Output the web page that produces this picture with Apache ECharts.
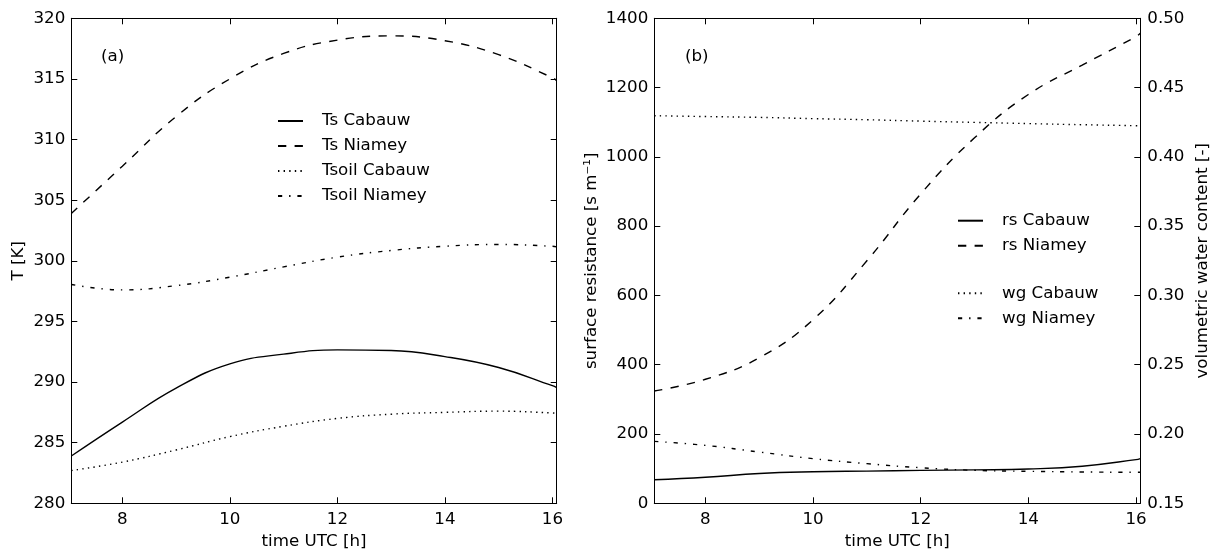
<!DOCTYPE html>
<html>
<head>
<meta charset="utf-8">
<script src="https://cdn.jsdelivr.net/npm/echarts@6/dist/echarts.min.js"></script>
<style>
html,body{margin:0;padding:0;background:#fff;}
#chart{width:1221px;height:556px;}
</style>
</head>
<body>
<div id="chart"></div>
<script>
// ---- data ----
const hours = [7.05, 8, 9, 10, 11, 12, 13, 14, 15, 16, 16.08];
const tsCabauw   = [283.9, 286.7, 289.5, 291.5, 292.3, 292.65, 292.6, 292.1, 291.2, 289.7, 289.55];
const tsNiamey   = [303.9, 307.8, 311.9, 315.0, 317.1, 318.2, 318.55, 318.15, 317.0, 315.1, 314.85];
const tsoilCabauw = [282.7, 283.4, 284.4, 285.5, 286.35, 287.0, 287.35, 287.5, 287.6, 287.45, 287.4];
const tsoilNiamey = [298.05, 297.6, 297.95, 298.65, 299.5, 300.3, 300.85, 301.2, 301.35, 301.2, 301.15];
const rsCabauw = [68, 75, 86, 91, 93, 95, 96.5, 99, 107, 126, 129];
const rsNiamey = [324, 358, 420, 530, 700, 893, 1055, 1180, 1265, 1347, 1357];
const wgCabauw = [0.4297, 0.4291, 0.4285, 0.4276, 0.4268, 0.4258, 0.4249, 0.4240, 0.4232, 0.4225, 0.4224];
const wgNiamey = [0.1947, 0.1918, 0.187, 0.1822, 0.1786, 0.1757, 0.1738, 0.1731, 0.1726, 0.1724, 0.1724];
const xTicks = [8, 10, 12, 14, 16];
const legendA = ['Ts Cabauw', 'Ts Niamey', 'Tsoil Cabauw', 'Tsoil Niamey'];
const legendB1 = ['rs Cabauw', 'rs Niamey'];
const legendB2 = ['wg Cabauw', 'wg Niamey'];

const pairs = (ys) => hours.map((h, i) => [h, ys[i]]);
const FONT = 'DejaVu Sans';
const FS = 16.7;
const X_MIN = 7.05, X_MAX = 16.08;

const DASH = [8.3, 8.3], DOT = [1.4, 4.2], DASHDOT = [4.2, 6.9, 1.4, 6.9];

function xAx(grid, pos, showLabel, name) {
  return {
    type: 'value', gridIndex: grid, position: pos, min: X_MIN, max: X_MAX,
    splitLine: {show: false},
    axisLine: {show: true, onZero: false, lineStyle: {color: '#000', width: 1}},
    axisTick: {show: true, inside: true, length: 6, customValues: xTicks, lineStyle: {color: '#000'}},
    axisLabel: {show: showLabel, customValues: xTicks, color: '#000', fontFamily: FONT, fontSize: FS, margin: 8},
    name: name || '', nameLocation: 'middle', nameGap: 25,
    nameTextStyle: {color: '#000', fontFamily: FONT, fontSize: FS}
  };
}
function yAx(grid, pos, min, max, interval, showLabel, name, fmt) {
  return {
    type: 'value', gridIndex: grid, position: pos, min: min, max: max, interval: interval,
    splitLine: {show: false},
    axisLine: {show: true, onZero: false, lineStyle: {color: '#000', width: 1}},
    axisTick: {show: true, inside: true, length: 6, lineStyle: {color: '#000'}},
    axisLabel: {show: showLabel, color: '#000', fontFamily: FONT, fontSize: FS, margin: 6,
      formatter: fmt || (v => String(v))},
    name: name || '', nameLocation: 'middle', nameGap: 46, nameRotate: 90,
    nameTextStyle: {color: '#000', fontFamily: FONT, fontSize: FS}
  };
}
function ln(name, xi, yi, ys, dash) {
  return {
    name: name, type: 'line', xAxisIndex: xi, yAxisIndex: yi, data: pairs(ys),
    smooth: 0.45, symbol: 'none', showSymbol: false, silent: true,
    lineStyle: {color: '#000', width: 1.4, type: dash},
    itemStyle: {color: '#000'}
  };
}

const legendCommon = {
  orient: 'vertical', itemWidth: 25, itemHeight: 16, itemGap: 8, padding: 0,
  itemStyle: {opacity: 0},
  textStyle: {color: '#000', fontFamily: FONT, fontSize: FS, padding: [0, 0, 0, 14]},
  selectedMode: false
};

const chart = echarts.init(document.getElementById('chart'), null, {renderer: 'canvas'});
const yA = yAx(0, 'left', 280, 320, 5, true, 'T [K]');
yA.nameGap = 44;
const yAr = yAx(0, 'right', 280, 320, 5, false, '');
const yB = yAx(1, 'left', 0, 1400, 200, true, 'surface resistance [s m\u207B\u00B9]');
yB.nameGap = 54;
const yBr = yAx(1, 'right', 0.15, 0.5, 0.05, true, 'volumetric water content [-]', v => v.toFixed(2));
yBr.nameGap = 54;
yBr.axisLabel.margin = 7;

chart.setOption({
  animation: false,
  backgroundColor: '#fff',
  grid: [
    {left: 71.3, right: 1221 - 556.7, top: 18.3, bottom: 556 - 503.3, containLabel: false},
    {left: 654.3, right: 1221 - 1140.3, top: 18.3, bottom: 556 - 503.3, containLabel: false}
  ],
  xAxis: [
    xAx(0, 'bottom', true, 'time UTC [h]'),
    xAx(0, 'top', false),
    xAx(1, 'bottom', true, 'time UTC [h]'),
    xAx(1, 'top', false)
  ],
  yAxis: [yA, yAr, yB, yBr],
  legend: [
    Object.assign({}, legendCommon, {data: legendA, left: 277, top: 112.5}),
    Object.assign({}, legendCommon, {data: legendB1, left: 957, top: 212.2}),
    Object.assign({}, legendCommon, {data: legendB2, left: 957, top: 284.8})
  ],
  graphic: [
    {type: 'text', left: 101, top: 48, style: {text: '(a)', fill: '#000', font: FS + 'px "DejaVu Sans"'}},
    {type: 'text', left: 685, top: 48, style: {text: '(b)', fill: '#000', font: FS + 'px "DejaVu Sans"'}}
  ],
  series: [
    ln('Ts Cabauw', 0, 0, tsCabauw, 'solid'),
    ln('Ts Niamey', 0, 0, tsNiamey, DASH),
    ln('Tsoil Cabauw', 0, 0, tsoilCabauw, DOT),
    ln('Tsoil Niamey', 0, 0, tsoilNiamey, DASHDOT),
    ln('rs Cabauw', 2, 2, rsCabauw, 'solid'),
    ln('rs Niamey', 2, 2, rsNiamey, DASH),
    ln('wg Cabauw', 2, 3, wgCabauw, DOT),
    ln('wg Niamey', 2, 3, wgNiamey, DASHDOT)
  ]
});
</script>
</body>
</html>
